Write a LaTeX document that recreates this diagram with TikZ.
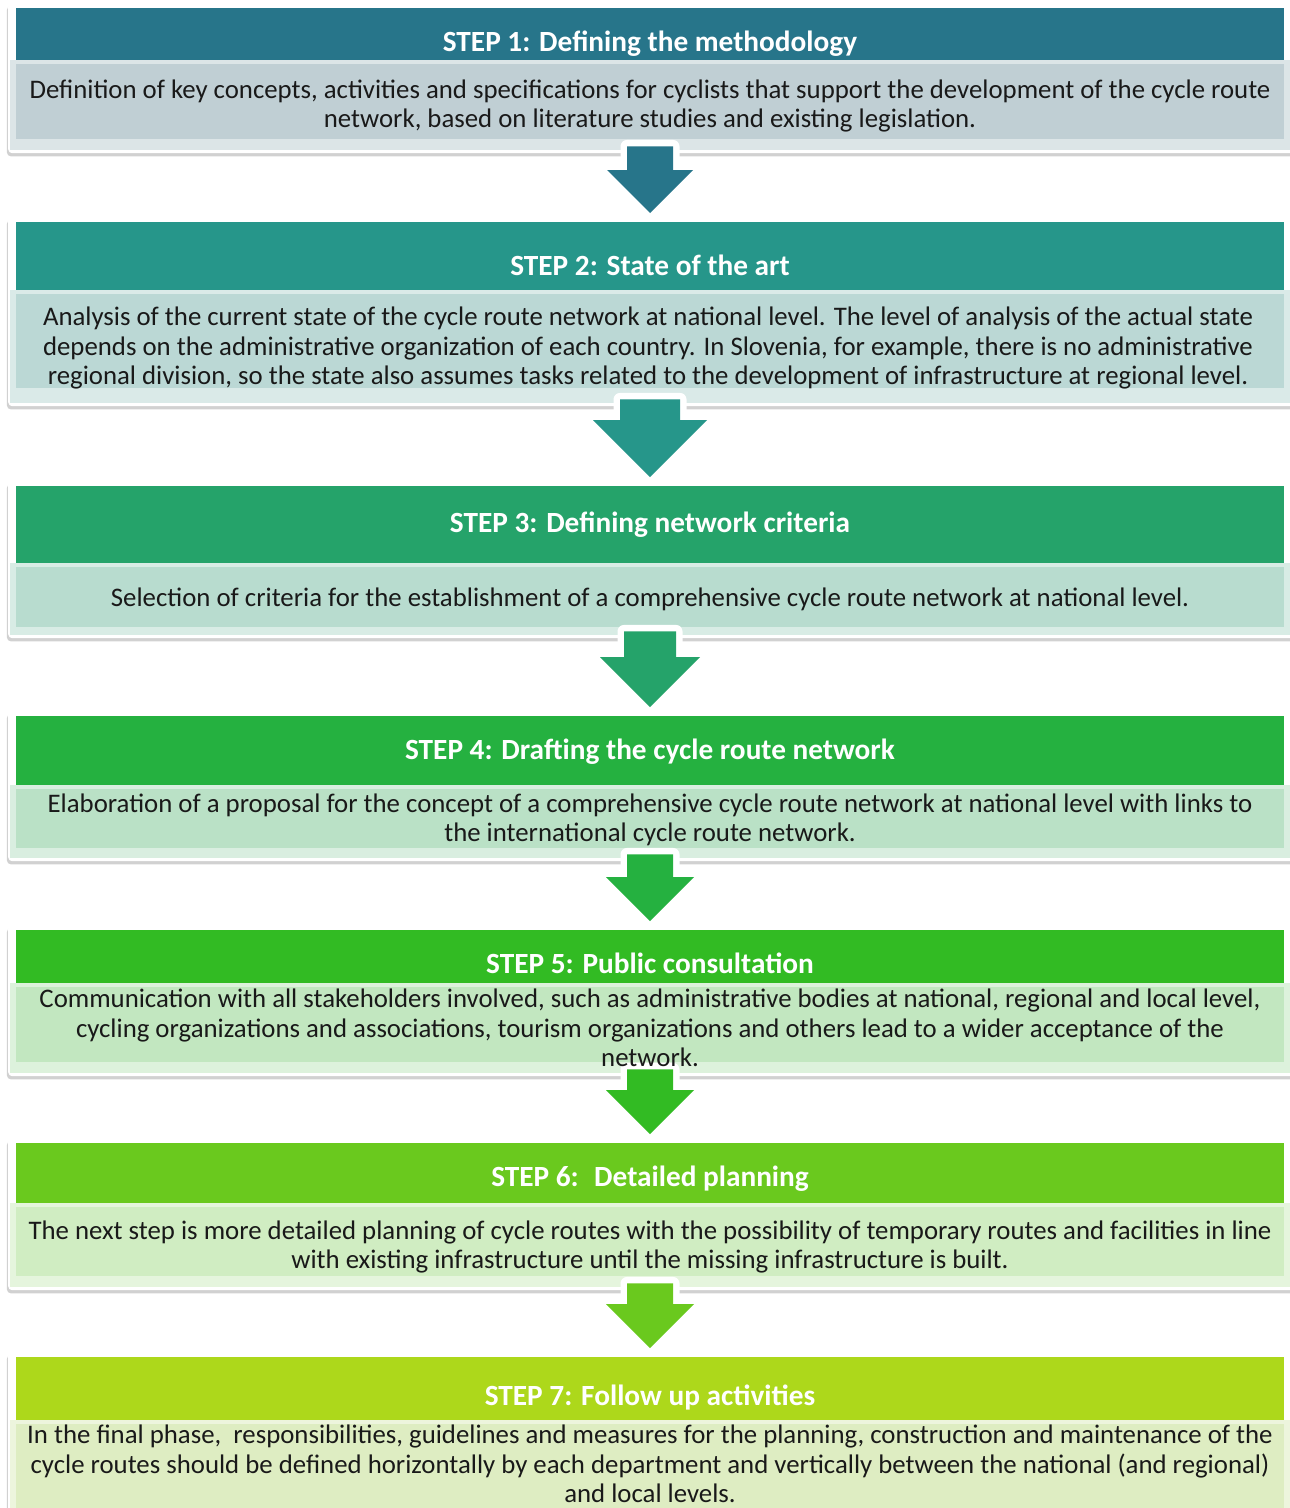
\documentclass[tikz,border=0pt]{standalone}
\usepackage{fontspec}
\setmainfont{Carlito}
\usetikzlibrary{calc,shadows}
\definecolor{hA}{HTML}{27758A}\definecolor{bA}{HTML}{C0CFD4}
\definecolor{hB}{HTML}{26968A}\definecolor{bB}{HTML}{BBD8D5}
\definecolor{hC}{HTML}{25A36A}\definecolor{bC}{HTML}{B8DCCF}
\definecolor{hD}{HTML}{25B140}\definecolor{bD}{HTML}{BAE1C6}
\definecolor{hE}{HTML}{32BB23}\definecolor{bE}{HTML}{C2E7C0}
\definecolor{hF}{HTML}{6AC91E}\definecolor{bF}{HTML}{D0EDC2}
\definecolor{hG}{HTML}{ADD81B}\definecolor{bG}{HTML}{DEEDC2}
\tikzset{
  outerbox/.style={draw=none, fill=white, rounded corners=4pt, inner sep=0pt,
    drop shadow={shadow xshift=0pt, shadow yshift=-3pt, opacity=0.18, fill=black, shadow scale=1.002}},
  headbox/.style={draw=none, inner sep=0pt},
  framebox/.style={draw=none, inner sep=0pt},
  bodybox/.style={draw=none, inner sep=0pt},
  titletext/.style={text=white, font=\bfseries\fontsize{29.3}{34}\selectfont, inner sep=0pt, anchor=base},
  bodytext/.style={text=black!90, font=\fontsize{26.8}{29.5}\selectfont, align=center, inner sep=0pt},
  arrowrim/.style={draw=white, fill=white, line width=13pt, line join=round,
    drop shadow={shadow xshift=1pt, shadow yshift=-3pt, opacity=0.22, fill=black}},
}
% #1 id, #2 header top, #3 header bottom, #4 body bottom, #5 frame bottom, #6 head colour, #7 body colour
\newcommand\stepblock[7]{%
  \node[outerbox, minimum width=1290pt, minimum height={#5-#2+8pt}, anchor=north west] (o#1) at (8,-#2+5) {};
  \node[headbox, fill=#6, minimum width=1268pt, minimum height={#3-#2}, anchor=north] (h#1) at (650,-#2) {};
  \node[framebox, fill=#7!55!white, minimum width=1280pt, minimum height={#5-#3}, anchor=north] (f#1) at (650,-#3) {};
  \node[bodybox, fill=#7, minimum width=1268pt, minimum height={#4-#3-4}, anchor=north] (b#1) at (650,-#3-4) {};
}
% #1 from frame, #2 to header, #3 stem half width, #4 head half width
\newcommand\arrowpath[4]{($(#1.south)+(-#3,4)$) -- ($(#2.north)+(-#3,9+#4)$) -- ($(#2.north)+(-#4,9+#4)$)
    -- ($(#2.north)+(0,9)$) -- ($(#2.north)+(#4,9+#4)$) -- ($(#2.north)+(#3,9+#4)$) -- ($(#1.south)+(#3,4)$) -- cycle}
\newcommand\blkarrow[5]{%
  \path[arrowrim] \arrowpath{#1}{#2}{#4}{#5};
  \fill[#3] \arrowpath{#1}{#2}{#4}{#5};
}
\begin{document}
\begin{tikzpicture}[x=1pt,y=1pt]
\useasboundingbox (0,0) rectangle (1290,-1508);
\fill[white] (0,0) rectangle (1290,-1508);

\stepblock{1}{8}{60}{139}{150}{hA}{bA}
\stepblock{2}{222}{290}{388}{403}{hB}{bB}
\stepblock{3}{486}{563}{627}{635}{hC}{bC}
\stepblock{4}{716}{785}{848}{858}{hD}{bD}
\stepblock{5}{930}{983}{1062}{1073}{hE}{bE}
\stepblock{6}{1143}{1203}{1276}{1287}{hF}{bF}
\stepblock{7}{1357}{1420}{1530}{1540}{hG}{bG}

\blkarrow{f1}{h2}{hA}{23}{43}
\blkarrow{f2}{h3}{hB}{30}{57}
\blkarrow{f3}{h4}{hC}{26}{50}
\blkarrow{f4}{h5}{hD}{23}{44}
\blkarrow{f5}{h6}{hE}{23}{44}
\blkarrow{f6}{h7}{hF}{23}{44}

\node[titletext] (s1) at (650,-51) {STEP 1: Defining the methodology};
\node[titletext] (s2) at (650,-275) {STEP 2: State of the art};
\node[titletext] (s3) at (650,-532) {STEP 3: Defining network criteria};
\node[titletext] (s4) at (650,-759) {STEP 4: Drafting the cycle route network};
\node[titletext] (s5) at (650,-973) {STEP 5: Public consultation};
\node[titletext] (s6) at (650,-1186) {STEP 6:~ Detailed planning};
\node[titletext] (s7) at (650,-1405) {STEP 7: Follow up activities};

\node[bodytext] (t1) at (650,-106) {Definition of key concepts, activities and specifications for cyclists that support the development of the cycle route\\ network, based on literature studies and existing legislation.};
\node[bodytext] (t2) at (648,-348) {Analysis of the current state of the cycle route network at national level. The level of analysis of the actual state\\ depends on the administrative organization of each country. In Slovenia, for example, there is no administrative\\ regional division, so the state also assumes tasks related to the development of infrastructure at regional level.};
\node[bodytext] (t3) at (650,-599) {Selection of criteria for the establishment of a comprehensive cycle route network at national level.};
\node[bodytext] (t4) at (650,-820) {Elaboration of a proposal for the concept of a comprehensive cycle route network at national level with links to\\ the international cycle route network.};
\node[bodytext] (t5) at (650,-1028) {Communication with all stakeholders involved, such as administrative bodies at national, regional and local level,\\ cycling organizations and associations, tourism organizations and others lead to a wider acceptance of the\\ network.};
\node[bodytext] (t6) at (650,-1247) {The next step is more detailed planning of cycle routes with the possibility of temporary routes and facilities in line\\ with existing infrastructure until the missing infrastructure is built.};
\node[bodytext] (t7) at (650,-1464) {In the final phase,~ responsibilities, guidelines and measures for the planning, construction and maintenance of the\\ cycle routes should be defined horizontally by each department and vertically between the national (and regional)\\ and local levels.};
\end{tikzpicture}
\end{document}
